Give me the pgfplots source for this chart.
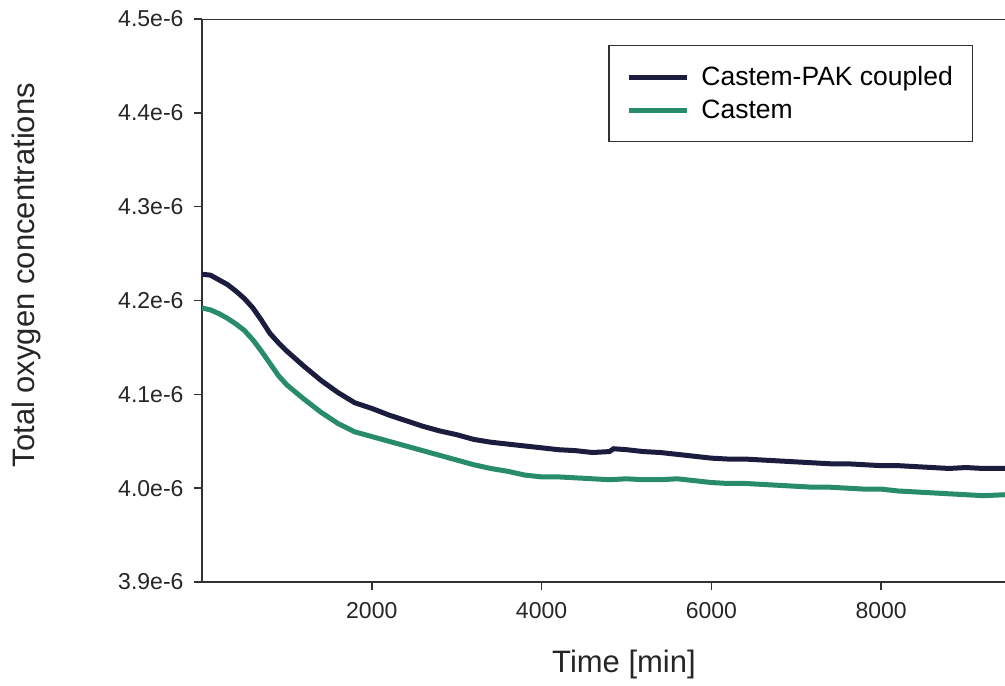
\documentclass[border=0pt]{standalone}
\usepackage{pgfplots}
\pgfplotsset{compat=1.18}
\usepackage{fontspec}
\setmainfont{Liberation Sans}
\definecolor{navyc}{RGB}{28,28,62}
\definecolor{greenc}{RGB}{40,140,104}
\definecolor{axc}{RGB}{50,50,50}
\begin{document}
\begin{tikzpicture}
\begin{axis}[
  at={(0pt,0pt)}, anchor=south west,
  scale only axis, width=803pt, height=563pt,
  xmin=0, xmax=9459, ymin=3.9e-6, ymax=4.5e-6,
  axis x line*=bottom, axis y line*=left,
  axis line style={axc, line width=1.8pt},
  tick style={axc, line width=1.5pt},
  tick align=outside, major tick length=8pt,
  xtick={2000,4000,6000,8000},
  ytick={3.9e-6,4.0e-6,4.1e-6,4.2e-6,4.3e-6,4.4e-6,4.5e-6},
  yticklabels={3.9e-6,4.0e-6,4.1e-6,4.2e-6,4.3e-6,4.4e-6,4.5e-6},
  scaled y ticks=false, scaled x ticks=false,
  /pgf/number format/assume math mode=true,
  /pgf/number format/1000 sep={},
  xticklabel style={font=\fontsize{23}{27}\selectfont, color=black!85, yshift=-9pt},
  yticklabel style={font=\fontsize{23}{27}\selectfont, color=black!85, xshift=-7pt},
  xlabel={Time [min]}, ylabel={Total oxygen concentrations},
  every axis x label/.style={at={(axis description cs:0.5255,-0.147)}, anchor=center, font=\fontsize{31}{36}\selectfont, color=black!85},
  every axis y label/.style={at={(axis description cs:-0.218,0.545)}, anchor=center, rotate=90, font=\fontsize{31}{36}\selectfont, color=black!85},
  legend style={at={(axis description cs:0.9601,0.9538)}, anchor=north east, draw=axc, line width=1.3pt, font=\fontsize{26.5}{30}\selectfont, inner xsep=17.5pt, inner ysep=19pt, row sep=9pt, cells={anchor=west}},
  legend image code/.code={\draw[#1, line width=5pt] (0pt,0pt) -- (58pt,0pt); \path (68pt,0pt);},
  legend cell align=left,
]
\addplot[navyc, line width=5pt] table {
t v
0 4.228e-6
100 4.227e-6
200 4.222e-6
300 4.217e-6
400 4.210e-6
500 4.202e-6
600 4.192e-6
700 4.179e-6
800 4.165e-6
900 4.155e-6
1000 4.146e-6
1200 4.130e-6
1400 4.115e-6
1600 4.102e-6
1800 4.091e-6
2000 4.085e-6
2200 4.078e-6
2400 4.072e-6
2600 4.066e-6
2800 4.061e-6
3000 4.057e-6
3200 4.052e-6
3400 4.049e-6
3600 4.047e-6
3800 4.045e-6
4000 4.043e-6
4200 4.041e-6
4400 4.040e-6
4600 4.038e-6
4800 4.039e-6
4850 4.042e-6
5000 4.041e-6
5200 4.039e-6
5400 4.038e-6
5600 4.036e-6
5800 4.034e-6
6000 4.032e-6
6200 4.031e-6
6400 4.031e-6
6600 4.030e-6
6800 4.029e-6
7000 4.028e-6
7200 4.027e-6
7400 4.026e-6
7600 4.026e-6
7800 4.025e-6
8000 4.024e-6
8200 4.024e-6
8400 4.023e-6
8600 4.022e-6
8800 4.021e-6
9000 4.022e-6
9200 4.021e-6
9459 4.021e-6
};
\addlegendentry{Castem-PAK coupled}
\addplot[greenc, line width=5pt] table {
t v
0 4.192e-6
100 4.190e-6
200 4.186e-6
300 4.181e-6
400 4.175e-6
500 4.168e-6
600 4.158e-6
700 4.146e-6
800 4.133e-6
900 4.120e-6
1000 4.110e-6
1200 4.095e-6
1400 4.081e-6
1600 4.069e-6
1800 4.060e-6
2000 4.055e-6
2200 4.050e-6
2400 4.045e-6
2600 4.040e-6
2800 4.035e-6
3000 4.030e-6
3200 4.025e-6
3400 4.021e-6
3600 4.018e-6
3800 4.014e-6
4000 4.012e-6
4200 4.012e-6
4400 4.011e-6
4600 4.010e-6
4800 4.009e-6
5000 4.010e-6
5200 4.009e-6
5400 4.009e-6
5600 4.010e-6
5800 4.008e-6
6000 4.006e-6
6200 4.005e-6
6400 4.005e-6
6600 4.004e-6
6800 4.003e-6
7000 4.002e-6
7200 4.001e-6
7400 4.001e-6
7600 4.000e-6
7800 3.999e-6
8000 3.999e-6
8200 3.997e-6
8400 3.996e-6
8600 3.995e-6
8800 3.994e-6
9000 3.993e-6
9200 3.992e-6
9459 3.993e-6
};
\addlegendentry{Castem}
\draw[axc, line width=1.8pt] (rel axis cs:0,1) -- (rel axis cs:1,1);
\end{axis}
\pgfresetboundingbox
\path[use as bounding box] (-202pt,-104pt) rectangle (803pt,582pt);
\end{tikzpicture}
\end{document}
